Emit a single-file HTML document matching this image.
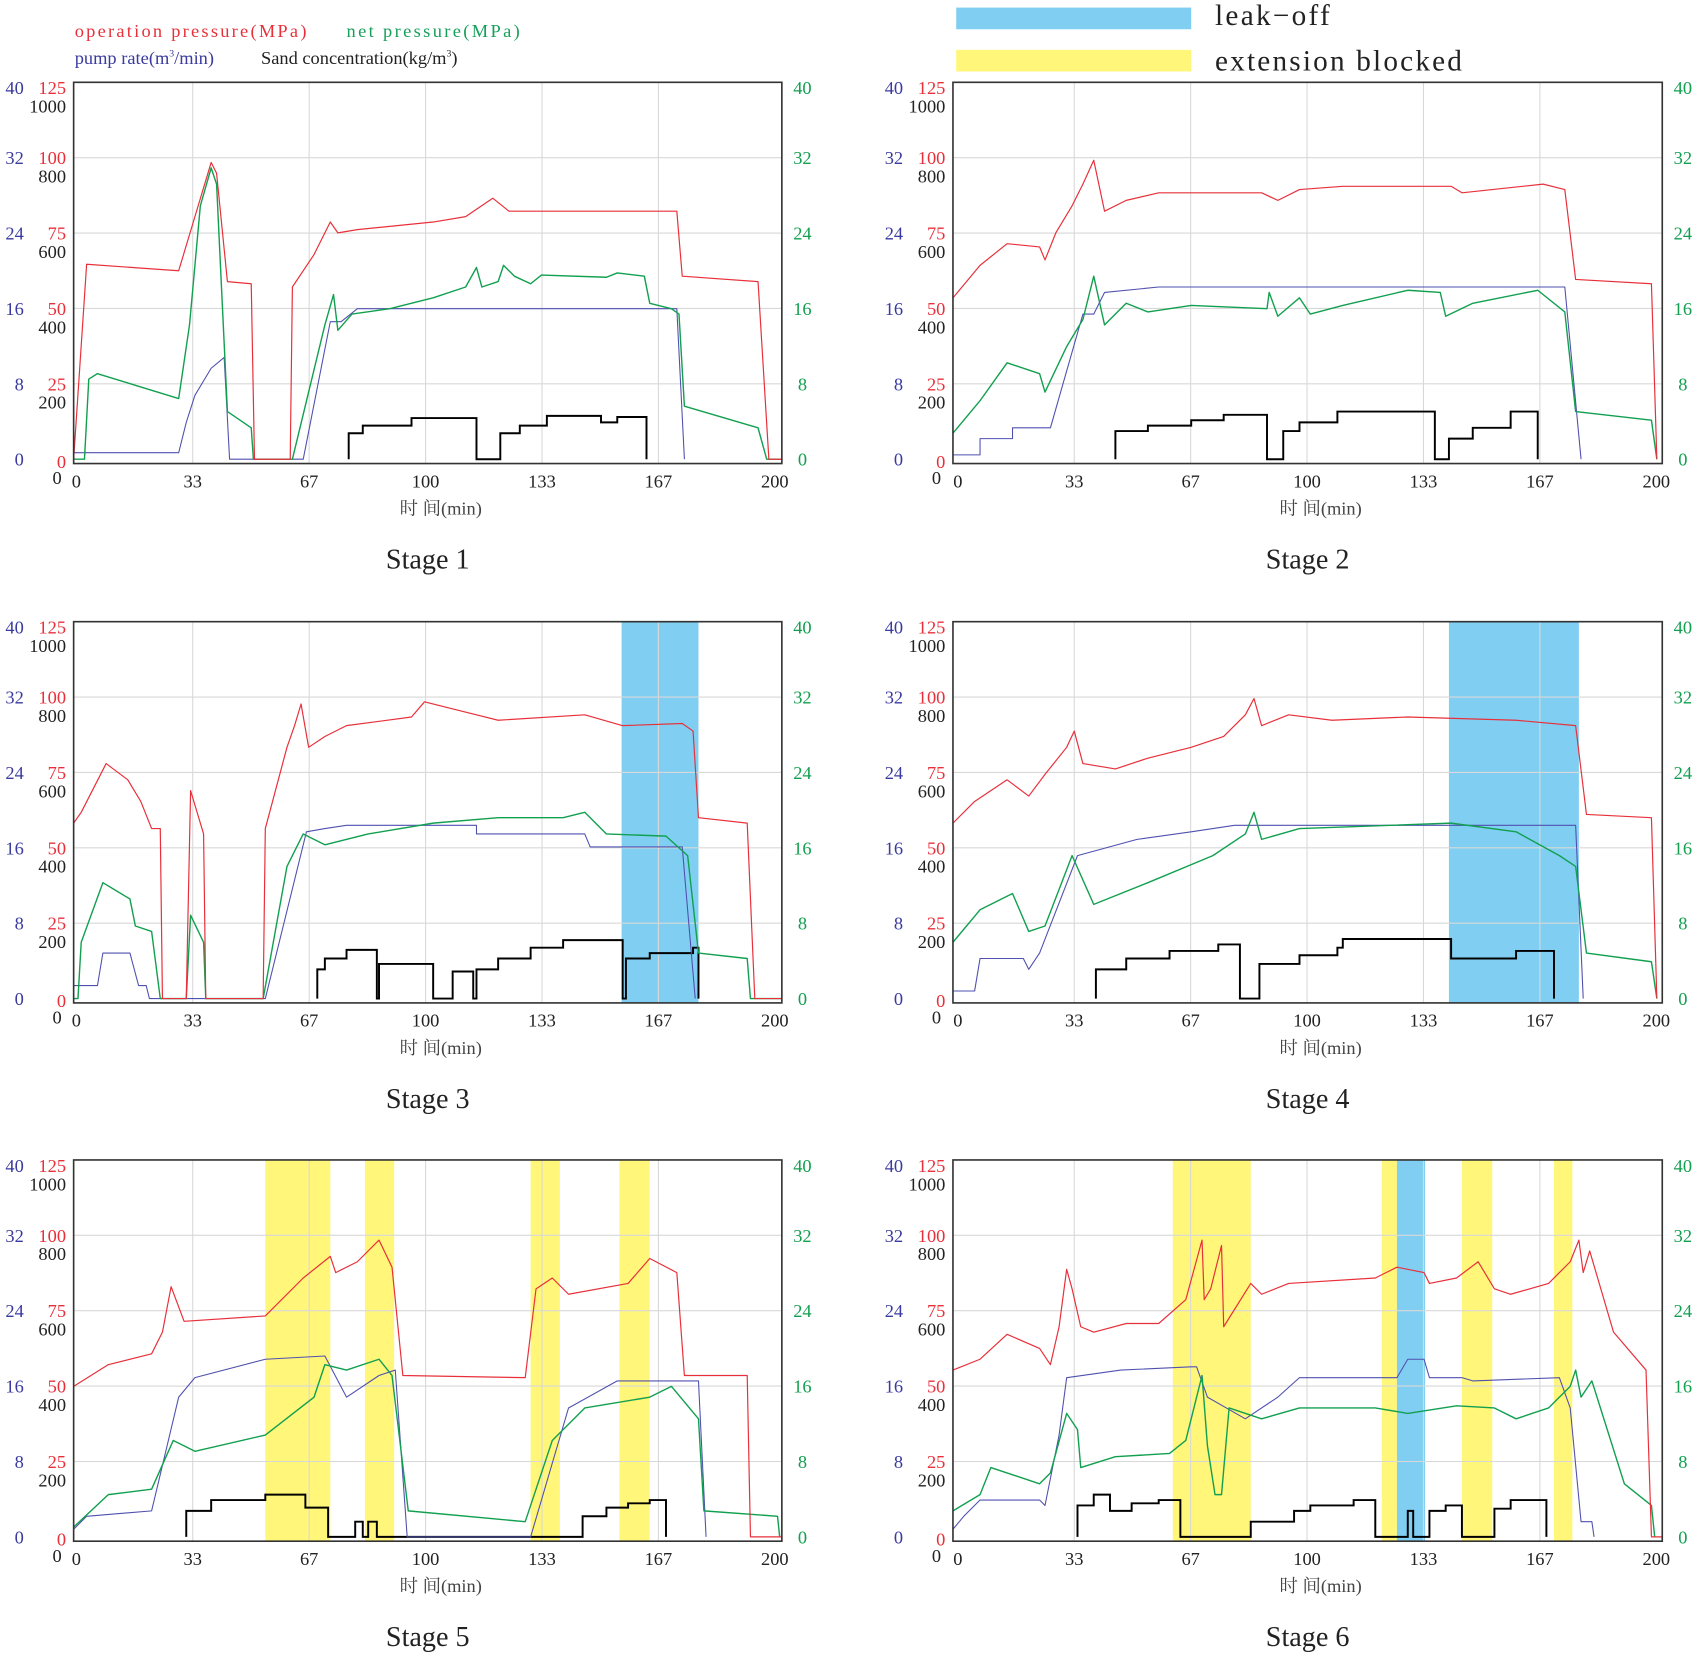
<!DOCTYPE html>
<html><head><meta charset="utf-8"><style>
html,body{margin:0;padding:0;background:#fff;}
svg{display:block;}
text{font-family:"Liberation Serif","Noto Serif CJK SC",serif;}
</style></head><body>
<svg id="s" width="1698" height="1656" viewBox="0 0 1568 1529" preserveAspectRatio="none" xmlns="http://www.w3.org/2000/svg">
<rect width="1568" height="1529" fill="#fff"/>
<text x="69" y="34" font-size="17" fill="#e8303a" textLength="214" lengthAdjust="spacing">operation  pressure(MPa)</text>
<text x="320" y="34" font-size="17" fill="#16a05a" textLength="160" lengthAdjust="spacing">net  pressure(MPa)</text>
<text x="69" y="59" font-size="17" fill="#3a3aa0">pump rate(m<tspan font-size="9" dy="-7">3</tspan><tspan dy="7">/min)</tspan></text>
<text x="241" y="59" font-size="17" fill="#222">Sand concentration(kg/m<tspan font-size="9" dy="-7">3</tspan><tspan dy="7">)</tspan></text>
<rect x="883" y="7" width="217" height="20" fill="#80cff2"/>
<rect x="883" y="46" width="217" height="20" fill="#fff67a"/>
<text x="1122" y="23" font-size="27" fill="#222" textLength="106" lengthAdjust="spacing">leak−off</text>
<text x="1122" y="65" font-size="27" fill="#222" textLength="228" lengthAdjust="spacing">extension blocked</text>
<g id="g"></g>
</svg>
<script>
var g=document.getElementById('g');var h='';
var RED='#e8303a',GRN='#12a050',BLU='#5050b0',BLK='#000';
function pl(p,c,w){return '<polyline fill="none" stroke="'+c+'" stroke-width="'+w+'" stroke-linejoin="round" points="'+p.map(function(a){return a.join(',')}).join(' ')+'"/>';}
function st(p,c,w){var d='M'+p[0][0]+' '+p[0][1];for(var i=1;i<p.length;i++){d+=' H'+p[i][0]+' V'+p[i][1];}return '<path fill="none" stroke="'+c+'" stroke-width="'+w+'" d="'+d+'"/>';}
var P=[
{L:68,R:722,T:76,Z:424,o:70.5,stage:'Stage 1',bands:[],
red:[[68,424],[80,244],[165,250],[180,200],[195,150],[200,160],[210,260],[232,262],[235,424],[268,424],[270,265],[290,235],[305,205],[312,215],[330,212],[400,205],[430,200],[455,183],[470,195],[625,195],[630,255],[700,260],[710,424],[722,424]],
grn:[[68,424],[78,424],[82,350],[90,345],[165,368],[175,300],[185,190],[195,155],[200,170],[210,380],[232,395],[234,424],[270,424],[300,300],[308,272],[312,305],[325,290],[360,285],[400,275],[430,265],[440,247],[445,265],[460,260],[465,245],[475,255],[490,262],[500,254],[560,256],[570,252],[595,255],[600,280],[620,285],[627,290],[632,375],[700,395],[708,424],[722,424]],
blu:[[68,418],[165,418],[172,390],[180,365],[195,340],[207,330],[212,424],[280,424],[305,297],[315,297],[330,285],[625,285],[632,424]],
blk:[[322,424],[322,400],[335,393],[380,386],[440,424],[462,424],[462,400],[480,393],[505,384],[555,390],[570,385],[597,424]]},
{L:880,R:1535,T:76,Z:424,o:884.5,stage:'Stage 2',bands:[],
red:[[880,275],[905,245],[930,225],[960,228],[965,240],[975,215],[990,190],[1000,170],[1010,148],[1020,195],[1040,185],[1070,178],[1165,178],[1180,185],[1200,175],[1240,172],[1340,172],[1350,178],[1425,170],[1445,175],[1455,258],[1525,262],[1530,424]],
grn:[[880,400],[905,370],[930,335],[960,345],[965,362],[985,320],[1000,295],[1010,255],[1020,300],[1040,280],[1060,288],[1100,282],[1170,285],[1172,270],[1180,292],[1200,275],[1210,290],[1240,282],[1300,268],[1330,270],[1335,292],[1360,280],[1420,268],[1445,288],[1455,380],[1525,388],[1530,424]],
blu:[[880,420],[905,420],[905,405],[935,405],[935,395],[970,395],[1000,290],[1010,290],[1020,270],[1070,265],[1445,265],[1460,424]],
blk:[[1030,424],[1030,398],[1060,393],[1100,388],[1130,383],[1170,424],[1185,424],[1185,398],[1200,390],[1235,380],[1325,424],[1338,424],[1338,405],[1360,395],[1395,380],[1420,424]]},
{L:68,R:722,T:574,Z:922,o:70.5,stage:'Stage 3',bands:[[574,645,'#80cff2']],
red:[[68,760],[75,750],[98,705],[118,720],[130,740],[140,765],[148,765],[150,922],[172,922],[176,730],[188,770],[190,922],[243,922],[245,765],[265,690],[272,670],[278,650],[285,690],[300,680],[320,670],[380,662],[392,648],[420,655],[440,660],[460,665],[540,660],[575,670],[630,668],[640,675],[645,755],[690,760],[697,922],[722,922]],
grn:[[68,922],[72,922],[75,870],[95,815],[120,830],[125,855],[140,860],[148,922],[172,922],[176,845],[188,870],[190,922],[243,922],[265,800],[280,770],[300,780],[340,770],[400,760],[460,755],[520,755],[540,750],[560,770],[615,772],[635,790],[645,880],[690,885],[693,922],[722,922]],
blu:[[68,910],[90,910],[95,880],[120,880],[128,910],[135,910],[138,922],[245,922],[283,768],[300,765],[320,762],[440,762],[440,770],[540,770],[545,782],[630,782],[642,922]],
blk:[[293,922],[293,895],[300,885],[320,877],[348,922],[350,922],[350,890],[400,922],[418,922],[418,897],[437,922],[440,922],[440,895],[460,885],[490,875],[520,868],[575,922],[578,922],[578,885],[600,880],[640,875],[645,922]]},
{L:880,R:1535,T:574,Z:922,o:884.5,stage:'Stage 4',bands:[[1338,1458,'#80cff2']],
red:[[880,760],[900,740],[930,720],[950,735],[965,715],[985,690],[992,675],[1000,705],[1030,710],[1060,700],[1100,690],[1130,680],[1150,660],[1158,645],[1165,670],[1190,660],[1230,665],[1300,662],[1400,665],[1455,670],[1465,752],[1525,755],[1530,922]],
grn:[[880,870],[905,840],[935,825],[950,860],[965,855],[990,790],[1010,835],[1060,815],[1120,790],[1150,770],[1158,750],[1165,775],[1200,765],[1340,760],[1400,768],[1440,790],[1455,800],[1465,880],[1525,888],[1530,922]],
blu:[[880,915],[900,915],[905,885],[945,885],[950,895],[960,880],[995,790],[1050,775],[1100,768],[1140,762],[1455,762],[1462,922]],
blk:[[1012,922],[1012,895],[1040,885],[1080,878],[1125,872],[1145,922],[1163,922],[1163,890],[1200,882],[1235,875],[1240,867],[1340,885],[1400,878],[1435,922]]},
{L:68,R:722,T:1071,Z:1419,o:70.5,stage:'Stage 5',bands:[[245,305,'#fff67a'],[337,364,'#fff67a'],[490,517,'#fff67a'],[572,600,'#fff67a']],
red:[[68,1280],[100,1260],[140,1250],[150,1230],[158,1188],[170,1220],[245,1215],[280,1180],[305,1160],[310,1175],[330,1165],[350,1145],[362,1170],[372,1270],[485,1272],[495,1190],[510,1180],[525,1195],[580,1185],[600,1162],[625,1175],[632,1270],[690,1270],[693,1419],[722,1419]],
grn:[[68,1410],[100,1380],[140,1375],[160,1330],[180,1340],[245,1325],[290,1290],[300,1260],[320,1265],[350,1255],[362,1270],[377,1395],[485,1405],[510,1330],[540,1300],[600,1290],[620,1280],[645,1310],[650,1395],[718,1400],[720,1419]],
blu:[[68,1412],[80,1400],[140,1395],[165,1290],[180,1272],[245,1255],[300,1252],[320,1290],[350,1270],[365,1265],[376,1419],[490,1419],[525,1300],[570,1275],[645,1275],[652,1419]],
blk:[[172,1419],[172,1395],[195,1385],[245,1380],[282,1392],[303,1419],[328,1419],[328,1405],[335,1419],[340,1419],[340,1405],[348,1419],[538,1419],[538,1400],[560,1392],[580,1388],[600,1385],[615,1419]]},
{L:880,R:1535,T:1071,Z:1419,o:884.5,stage:'Stage 6',bands:[[1083,1155,'#fff67a'],[1276,1290,'#fff67a'],[1290,1316,'#80cff2'],[1350,1378,'#fff67a'],[1435,1452,'#fff67a']],
red:[[880,1265],[905,1255],[930,1232],[960,1245],[970,1260],[978,1225],[985,1172],[990,1190],[998,1225],[1010,1230],[1040,1222],[1070,1222],[1095,1200],[1110,1145],[1112,1200],[1118,1190],[1128,1150],[1130,1225],[1155,1185],[1165,1195],[1190,1185],[1270,1180],[1290,1170],[1315,1175],[1320,1185],[1345,1180],[1365,1165],[1380,1190],[1395,1195],[1430,1185],[1450,1165],[1458,1145],[1462,1175],[1468,1155],[1490,1230],[1520,1265],[1525,1419],[1535,1419]],
grn:[[880,1395],[905,1380],[915,1355],[960,1370],[970,1360],[985,1305],[995,1320],[998,1355],[1030,1345],[1080,1342],[1095,1330],[1110,1270],[1115,1335],[1122,1380],[1128,1380],[1135,1300],[1165,1310],[1200,1300],[1270,1300],[1300,1305],[1345,1298],[1380,1300],[1400,1310],[1430,1300],[1450,1280],[1455,1265],[1460,1290],[1470,1275],[1500,1370],[1525,1390],[1528,1419]],
blu:[[880,1412],[890,1400],[905,1385],[960,1385],[965,1390],[978,1325],[985,1272],[1035,1265],[1100,1262],[1105,1262],[1115,1290],[1150,1310],[1180,1290],[1200,1272],[1290,1272],[1300,1255],[1315,1255],[1320,1272],[1350,1272],[1360,1275],[1440,1272],[1450,1300],[1460,1405],[1470,1405],[1472,1419]],
blk:[[995,1419],[995,1390],[1010,1380],[1025,1395],[1045,1388],[1070,1385],[1090,1419],[1155,1419],[1155,1405],[1195,1395],[1210,1390],[1250,1385],[1270,1419],[1300,1419],[1300,1395],[1305,1419],[1320,1419],[1320,1395],[1335,1390],[1350,1419],[1380,1419],[1380,1393],[1395,1385],[1428,1419]]}
];
var pm=3.225,vs=8.7;
P.forEach(function(p){
  var H=p.Z+4-p.T;
  p.bands.forEach(function(b){h+='<rect x="'+b[0]+'" y="'+p.T+'" width="'+(b[1]-b[0])+'" height="'+H+'" fill="'+b[2]+'"/>';});
  for(var k=1;k<=5;k++){var x=p.o+k*33.333*pm;h+='<line x1="'+x+'" y1="'+p.T+'" x2="'+x+'" y2="'+(p.Z+4)+'" stroke="#d8d8d8" stroke-width="1"/>';}
  for(var k=1;k<=4;k++){var y=p.Z-k*8*vs;h+='<line x1="'+p.L+'" y1="'+y+'" x2="'+p.R+'" y2="'+y+'" stroke="#d8d8d8" stroke-width="1"/>';}
  h+=st(p.blk,BLK,1.8);
  h+=pl(p.blu,BLU,1);
  h+=pl(p.grn,GRN,1.3);
  h+=pl(p.red,RED,1.1);
  h+='<rect x="'+p.L+'" y="'+p.T+'" width="'+(p.R-p.L)+'" height="'+H+'" fill="none" stroke="#333" stroke-width="1.5"/>';
  var off=p.L-68;
  var bl=['40','32','24','16','8','0'],rl=['125','100','75','50','25','0'],kl=['1000','800','600','400','200','0'];
  for(var k=0;k<6;k++){
    var v=40-8*k,y=p.Z-v*vs+6;
    if(k==0)y+=5;
    h+='<text x="'+(22+off)+'" y="'+y+'" font-size="17" text-anchor="end" fill="#3a3aa0">'+bl[k]+'</text>';
    h+='<text x="'+(61+off)+'" y="'+(k==5?y+2:y)+'" font-size="17" text-anchor="end" fill="'+RED+'">'+rl[k]+'</text>';
    h+='<text x="'+(61+off-(k==5?4:0))+'" y="'+(y+17)+'" font-size="17" text-anchor="end" fill="#222">'+kl[k]+'</text>';
    h+='<text x="'+(p.R+19)+'" y="'+y+'" font-size="17" text-anchor="middle" fill="'+GRN+'">'+bl[k]+'</text>';
  }
  var xl=['0','33','67','100','133','167','200'];
  for(var k=0;k<7;k++){var x=p.o+k*33.333*pm;h+='<text x="'+x+'" y="'+(p.Z+26)+'" font-size="17" text-anchor="middle" fill="#222">'+xl[k]+'</text>';}
  var cx=(p.L+p.R)/2;
  h+='<text x="'+(cx+12)+'" y="'+(p.Z+51)+'" font-size="17" text-anchor="middle" fill="#444">时 间(min)</text>';
  h+='<text x="'+(cx)+'" y="'+(p.Z+101)+'" font-size="26" text-anchor="middle" fill="#222">'+p.stage+'</text>';
});
g.innerHTML=h;
</script>
</body></html>
